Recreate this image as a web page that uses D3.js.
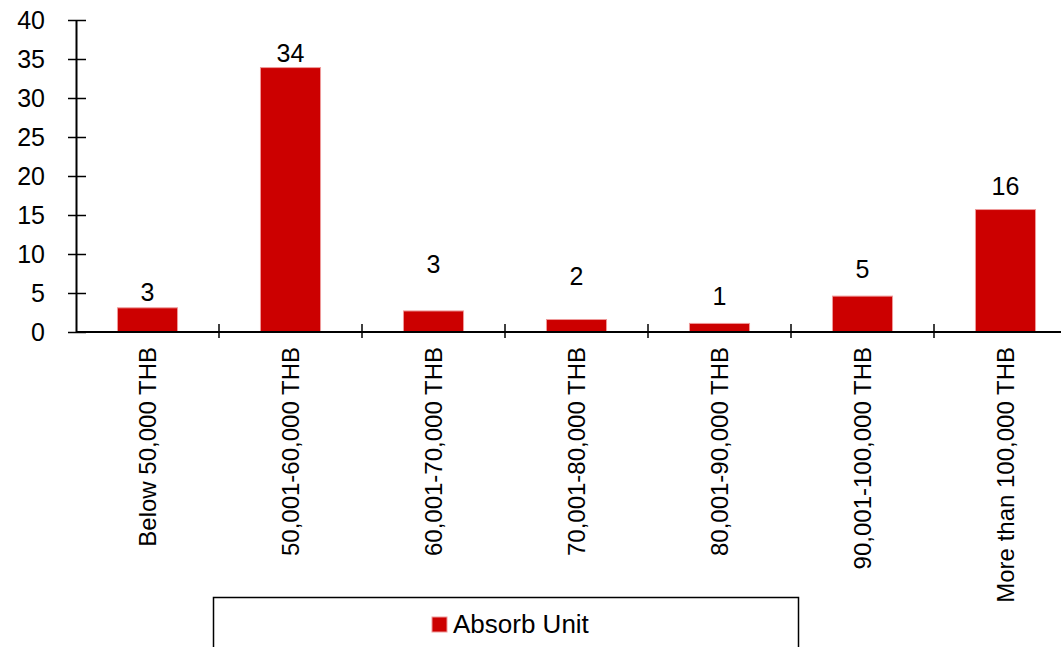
<!DOCTYPE html>
<html>
<head>
<meta charset="utf-8">
<script src="https://cdn.jsdelivr.net/npm/d3@7"></script>
<style>
  html, body { margin: 0; padding: 0; background: #fff; }
  svg { display: block; font-family: "Liberation Sans", Arial, sans-serif; }
</style>
</head>
<body>
<svg id="chart" width="1061" height="647"></svg>
<script>
// Income brackets and the absorb-unit count for each
const categories = [
  "Below 50,000 THB",
  "50,001-60,000 THB",
  "60,001-70,000 THB",
  "70,001-80,000 THB",
  "80,001-90,000 THB",
  "90,001-100,000 THB",
  "More than 100,000 THB"
];
const absorbUnit = [3.1, 33.9, 2.7, 1.6, 1.1, 4.6, 15.7];
const yTicks = [0, 5, 10, 15, 20, 25, 30, 35, 40];
const seriesName = "Absorb Unit";

// Gap (px) between each bar top and its value label baseline
const labelGap = [7, 6, 38, 35, 18, 18, 15];

const svg = d3.select("#chart");
const plotLeft = 76, plotRight = 1077, plotTop = 20, plotBottom = 332;
const red = "#cc0000";

const x = d3.scaleBand()
  .domain(categories)
  .range([plotLeft, plotRight])
  .paddingInner(0.58)
  .paddingOuter(0.29);

const y = d3.scaleLinear().domain([0, 40]).range([plotBottom, plotTop]);

// Bars
svg.append("g").selectAll("rect")
  .data(absorbUnit)
  .join("rect")
  .attr("x", (d, i) => x(categories[i]))
  .attr("y", d => y(d))
  .attr("width", x.bandwidth())
  .attr("height", d => y(0) - y(d))
  .attr("fill", red)
  .attr("stroke", "#ee9a9a")
  .attr("stroke-width", 1);

// Value labels
const fmt = d3.format(".0f");
svg.append("g").selectAll("text")
  .data(absorbUnit)
  .join("text")
  .attr("x", (d, i) => x(categories[i]) + x.bandwidth() / 2)
  .attr("y", (d, i) => y(d) - labelGap[i])
  .attr("text-anchor", "middle")
  .attr("font-size", 25)
  .attr("fill", "#000")
  .text(d => fmt(d));

// Y axis
const yAxis = svg.append("g")
  .attr("transform", `translate(${plotLeft},0)`)
  .call(d3.axisLeft(y).tickValues(yTicks).tickSize(0).tickPadding(31));
yAxis.select(".domain").attr("stroke", "#000").attr("stroke-width", 2);
yAxis.selectAll(".tick text")
  .attr("font-size", 25)
  .attr("fill", "#000")
  .attr("font-family", "Liberation Sans, Arial, sans-serif");
yAxis.selectAll(".tick").append("line")
  .attr("x1", -8).attr("x2", 10)
  .attr("stroke", "#000").attr("stroke-width", 1.5);

// X axis line with tick marks between categories
const xAxis = svg.append("g");
xAxis.append("line")
  .attr("x1", plotLeft).attr("x2", plotRight)
  .attr("y1", y(0)).attr("y2", y(0))
  .attr("stroke", "#000").attr("stroke-width", 2);
const step = x.step();
xAxis.selectAll("line.sep")
  .data(d3.range(1, categories.length + 1))
  .join("line")
  .attr("class", "sep")
  .attr("x1", i => plotLeft + i * step)
  .attr("x2", i => plotLeft + i * step)
  .attr("y1", y(0) - 8)
  .attr("y2", y(0) + 6)
  .attr("stroke", "#000")
  .attr("stroke-width", 1.5);

// Rotated category labels
xAxis.selectAll("text")
  .data(categories)
  .join("text")
  .attr("transform", d => `translate(${x(d) + x.bandwidth() / 2},${y(0) + 15}) rotate(-90)`)
  .attr("text-anchor", "end")
  .attr("dy", "0.35em")
  .attr("font-size", 24)
  .attr("fill", "#000")
  .text(d => d);

// Legend
const legend = svg.append("g");
legend.append("rect")
  .attr("x", 213.5).attr("y", 597.5)
  .attr("width", 585).attr("height", 120)
  .attr("fill", "none")
  .attr("stroke", "#000")
  .attr("stroke-width", 1.5);
legend.append("rect")
  .attr("x", 432).attr("y", 617)
  .attr("width", 15).attr("height", 15)
  .attr("fill", red)
  .attr("stroke", "#ee9a9a")
  .attr("stroke-width", 1);
legend.append("text")
  .attr("x", 453).attr("y", 633)
  .attr("font-size", 26)
  .attr("fill", "#000")
  .text(seriesName);
</script>
</body>
</html>
